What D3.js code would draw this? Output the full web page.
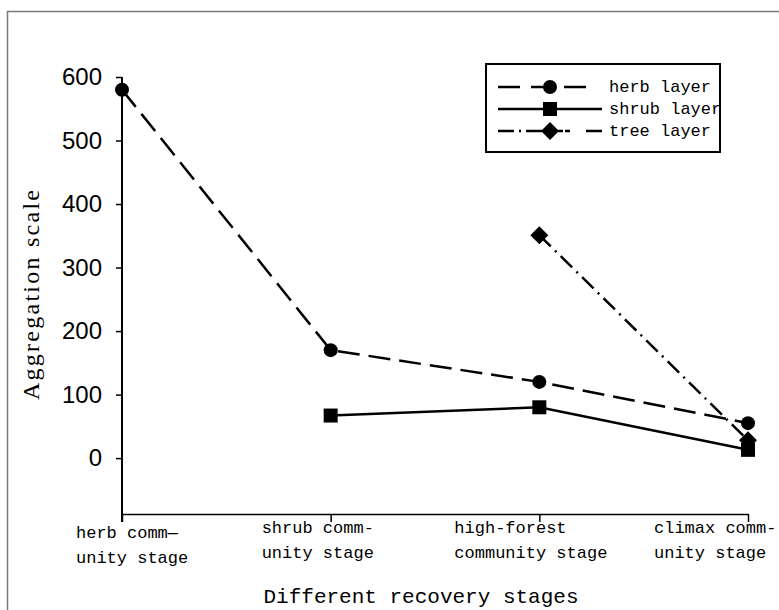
<!DOCTYPE html>
<html><head><meta charset="utf-8">
<script src="https://cdn.jsdelivr.net/npm/d3@7"></script>
<style>body{margin:0;background:#fff;}svg{display:block;}</style>
</head><body>
<svg id="chart" width="779" height="610"></svg>
<script>
const stages = ["herb", "shrub", "high-forest", "climax"];
const stageLabels = [
  ["herb comm\u2014", "unity stage"],
  ["shrub comm-", "unity stage"],
  ["high-forest", "community stage"],
  ["climax comm-", "unity stage"]
];
const herbLayer = [580, 170, 120, 55];
const shrubLayer = [null, 67, 80, 13];
const treeLayer = [null, null, 351, 28];
const yTicks = [0, 100, 200, 300, 400, 500, 600];
const seriesNames = ["herb layer", "shrub layer", "tree layer"];

const svg = d3.select("#chart");
const monoFont = "'Liberation Mono', 'DejaVu Sans Mono', monospace";

// outer frame
svg.append("rect").attr("x", 7.5).attr("y", 11.5).attr("width", 800).attr("height", 700)
  .attr("fill", "none").attr("stroke", "#7a7a7a").attr("stroke-width", 1.5);

const x = d3.scalePoint().domain(stages).range([122, 748]);
const y = d3.scaleLinear().domain([-88, 600]).range([514, 77]);

// y axis
const yAxis = svg.append("g").attr("transform", "translate(122,0)")
  .call(d3.axisLeft(y).tickValues(yTicks).tickSize(6).tickSizeOuter(0).tickPadding(14));
yAxis.select(".domain").remove();
yAxis.append("line").attr("x1", 0).attr("x2", 0).attr("y1", y(600)).attr("y2", y.range()[0] + 8)
  .attr("stroke", "#000").attr("stroke-width", 2);
yAxis.selectAll(".tick line").attr("stroke-width", 1.5);
yAxis.selectAll(".tick text").attr("font-family", "'Liberation Sans', Arial, sans-serif")
  .attr("font-size", 24).attr("fill", "#000");

// x axis
const xAxis = svg.append("g").attr("transform", "translate(0,514)")
  .call(d3.axisBottom(x).tickSize(8).tickSizeOuter(0).tickFormat(""));
xAxis.select(".domain").attr("stroke-width", 1.5);
xAxis.selectAll(".tick line").attr("stroke-width", 1.5);

const labelOffsets = [-46, -69, -85, -94];
const labelShiftY = [5, 0, 0, 0];
stages.forEach((s, i) => {
  const t = svg.append("text").attr("font-family", monoFont).attr("font-size", 17)
    .attr("fill", "#000");
  stageLabels[i].forEach((ln, j) => {
    t.append("tspan").attr("x", x(s) + labelOffsets[i]).attr("y", 533 + labelShiftY[i] + j * 25).text(ln);
  });
});

// axis titles
svg.append("text").attr("x", 421).attr("y", 603).attr("text-anchor", "middle")
  .attr("font-family", monoFont).attr("font-size", 21).attr("fill", "#000")
  .text("Different recovery stages");
svg.append("text").attr("transform", "translate(39,295) rotate(-90)").attr("text-anchor", "middle")
  .attr("font-family", "'Liberation Serif', 'Times New Roman', serif").attr("font-size", 24)
  .attr("textLength", 210).attr("lengthAdjust", "spacing").attr("fill", "#000")
  .text("Aggregation scale");

// series
const series = [
  {name: seriesNames[0], values: herbLayer, dash: "22,9", marker: "circle"},
  {name: seriesNames[1], values: shrubLayer, dash: null, marker: "square"},
  {name: seriesNames[2], values: treeLayer, dash: "16,6,2,6", marker: "diamond"}
];
const line = d3.line().defined(d => d.v != null).x(d => x(d.s)).y(d => y(d.v));

function drawMarker(g, type, cx, cy) {
  if (type === "circle") g.append("circle").attr("cx", cx).attr("cy", cy).attr("r", 7).attr("fill", "#000");
  else if (type === "square") g.append("rect").attr("x", cx - 7).attr("y", cy - 7).attr("width", 14).attr("height", 14).attr("fill", "#000");
  else g.append("path").attr("d", `M${cx},${cy - 9}L${cx + 9},${cy}L${cx},${cy + 9}L${cx - 9},${cy}Z`).attr("fill", "#000");
}

series.forEach(sr => {
  const pts = stages.map((s, i) => ({s, v: sr.values[i]}));
  const g = svg.append("g");
  g.append("path").attr("d", line(pts)).attr("fill", "none").attr("stroke", "#000")
    .attr("stroke-width", 2.5).attr("stroke-dasharray", sr.dash);
  pts.filter(p => p.v != null).forEach(p => drawMarker(g, sr.marker, x(p.s), y(p.v)));
});

// legend
const lg = svg.append("g");
lg.append("rect").attr("x", 486).attr("y", 64).attr("width", 234).attr("height", 88)
  .attr("fill", "#fff").attr("stroke", "#000").attr("stroke-width", 2);
const legendDash = ["22,11,13,20,22", null, "16,5,2,5,16"];
series.forEach((sr, i) => {
  const ry = [87, 109, 131][i];
  lg.append("line").attr("x1", 498).attr("x2", 602).attr("y1", ry).attr("y2", ry)
    .attr("stroke", "#000").attr("stroke-width", 2.5).attr("stroke-dasharray", legendDash[i]);
  drawMarker(lg, sr.marker, 550, ry);
  lg.append("text").attr("x", 609).attr("y", ry + 5).attr("font-family", monoFont)
    .attr("font-size", 17).attr("fill", "#000").text(sr.name);
});
</script>
</body></html>
